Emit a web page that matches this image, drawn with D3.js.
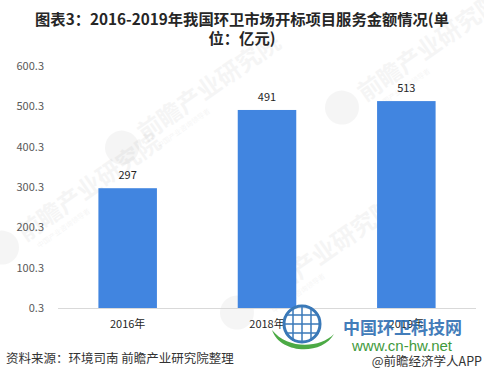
<!DOCTYPE html>
<html>
<head>
<meta charset="utf-8">
<script src="https://cdn.jsdelivr.net/npm/d3@7"></script>
<style>
	body { margin: 0; background: #fff; }
	#root { width: 484px; height: 381px; }
	text { font-family: "Noto Sans CJK SC", "Noto Sans", sans-serif; }
</style>
</head>
<body>
<div id="root"></div>
<script>
const categories = ["2016年", "2018年", "2019年"];
const values = [297, 491, 513];
const tickValues = [0.3, 100.3, 200.3, 300.3, 400.3, 500.3, 600.3];

const titleLines = ["图表3：2016-2019年我国环卫市场开标项目服务金额情况(单", "位：亿元)"];
const sourceText = "资料来源：环境司南 前瞻产业研究院整理";
const brandText = "@前瞻经济学人APP";

const makeChart = () => {
	const svg = d3.select("#root")
		.append("svg")
			.attr("width", 484)
			.attr("height", 381);

	drawWatermarks(svg);

	const x = d3.scaleBand()
		.domain(categories)
		.range([58, 476])
		.paddingInner(0.58)
		.paddingOuter(0.29);

	const y = d3.scaleLinear()
		.domain([0.3, 600.3])
		.range([308, 66]);

	// title
	svg.selectAll(".title")
		.data(titleLines)
		.enter()
		.append("text")
			.attr("x", 242)
			.attr("y", (d, i) => 25 + i * 19)
			.attr("text-anchor", "middle")
			.style("font-size", "15.3px")
			.style("font-weight", "bold")
			.style("fill", "#262626")
			.text(d => d);

	// y axis labels
	svg.selectAll(".ytick")
		.data(tickValues)
		.enter()
		.append("text")
			.attr("x", 44)
			.attr("y", d => y(d))
			.attr("dy", "0.35em")
			.attr("text-anchor", "end")
			.style("font-size", "11px")
			.style("fill", "#595959")
			.text(d => d3.format(".1f")(d));

	// bars
	svg.selectAll(".bar")
		.data(values)
		.enter()
		.append("rect")
			.attr("x", (d, i) => x(categories[i]))
			.attr("y", d => y(d + 0.3))
			.attr("width", x.bandwidth())
			.attr("height", d => y(0.3) - y(d + 0.3))
			.style("fill", "#4185e0");

	// baseline
	svg.append("line")
		.attr("x1", 58)
		.attr("x2", 476)
		.attr("y1", y(0.3) + 0.5)
		.attr("y2", y(0.3) + 0.5)
		.style("stroke", "#d9d9d9");

	// value labels
	svg.selectAll(".val")
		.data(values)
		.enter()
		.append("text")
			.attr("x", (d, i) => x(categories[i]) + x.bandwidth() / 2)
			.attr("y", d => y(d + 0.3) - 9)
			.attr("text-anchor", "middle")
			.style("font-size", "11px")
			.style("fill", "#262626")
			.text(d => d);

	// category labels
	svg.selectAll(".cat")
		.data(categories)
		.enter()
		.append("text")
			.attr("x", d => x(d) + x.bandwidth() / 2)
			.attr("y", 328)
			.attr("text-anchor", "middle")
			.style("font-size", "11px")
			.style("fill", "#262626")
			.text(d => d);

	// footer
	svg.append("text")
		.attr("x", 6)
		.attr("y", 363)
		.style("font-size", "12.5px")
		.style("fill", "#333")
		.text(sourceText);

	drawLogo(svg);

	svg.append("text")
		.attr("x", 482)
		.attr("y", 366)
		.attr("text-anchor", "end")
		.style("font-size", "12.5px")
		.style("fill", "#333")
		.text(brandText);
};

const drawWatermarks = (svg) => {
	const spots = [[140, 135], [360, 95], [255, 300], [20, 235]];
	spots.forEach(([px, py]) => {
		const g = svg.append("g")
			.attr("transform", `translate(${px}, ${py}) rotate(-35)`)
			.style("opacity", 0.045);
		g.append("circle")
			.attr("cx", -22)
			.attr("cy", 0)
			.attr("r", 17)
			.style("fill", "#333");
		g.append("text")
			.attr("x", 0)
			.attr("y", 9)
			.style("font-size", "24px")
			.style("font-weight", "bold")
			.style("fill", "#333")
			.text("前瞻产业研究院");
		g.append("text")
			.attr("x", 8)
			.attr("y", 22)
			.style("font-size", "7px")
			.style("fill", "#333")
			.text("中国产业咨询领导者");
	});
};

const drawLogo = (svg) => {
	const g = svg.append("g").attr("transform", "translate(302, 324)");
	g.append("path")
		.attr("d", "M-30,6 C-22,30 20,32 32,10 C18,24 -14,26 -30,6 Z")
		.style("fill", "#4caa45");
	g.append("circle")
		.attr("r", 18)
		.style("fill", "rgba(255,255,255,0.6)")
		.style("stroke", "#3a79b8")
		.style("stroke-width", 3);
	[-9, 0, 9].forEach(o => {
		g.append("line")
			.attr("x1", -17).attr("x2", 17)
			.attr("y1", o).attr("y2", o)
			.style("stroke", "#3a79b8").style("stroke-width", 1.5);
		g.append("line")
			.attr("y1", -17).attr("y2", 17)
			.attr("x1", o).attr("x2", o)
			.style("stroke", "#3a79b8").style("stroke-width", 1.5);
	});
	svg.append("text")
		.attr("x", 343)
		.attr("y", 334)
		.style("font-size", "17px")
		.style("font-weight", "bold")
		.style("fill", "#2f6fb3")
		.style("opacity", 0.9)
		.text("中国环卫科技网");
	svg.append("text")
		.attr("x", 352)
		.attr("y", 351)
		.style("font-size", "15px")
		.style("font-family", "Arial, 'Liberation Sans', sans-serif")
		.style("fill", "#3f9a3c")
		.text("www.cn-hw.net");
};

makeChart();
</script>
</body>
</html>
